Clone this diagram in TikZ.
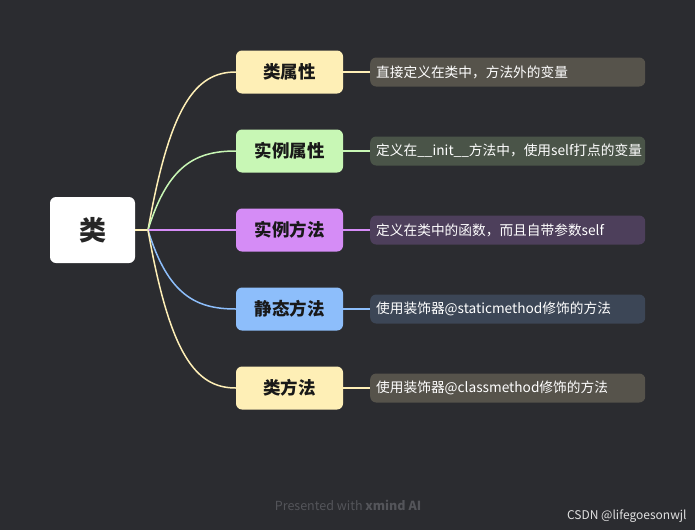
\documentclass[tikz,border=0pt]{standalone}
\usepackage{fontspec}
\setmainfont{Noto Sans CJK SC}
\definecolor{bgdark}{HTML}{2B2C30}
\definecolor{ylw}{HTML}{FEEFB6}
\definecolor{grn}{HTML}{C8F7B5}
\definecolor{prp}{HTML}{D58CF6}
\definecolor{blu}{HTML}{8DBEFB}
\definecolor{noteylw}{HTML}{56534B}
\definecolor{notegrn}{HTML}{4A5448}
\definecolor{noteprp}{HTML}{4D3F5B}
\definecolor{noteblu}{HTML}{3C4656}
\definecolor{wmgray}{HTML}{54555A}
\tikzset{
  rootbox/.style={fill=white,rounded corners=6pt,minimum width=85pt,minimum height=66pt,text=black!85,font=\bfseries\fontsize{27}{27}\selectfont},
  topicbox/.style={rounded corners=6pt,minimum width=107pt,minimum height=43pt,text=black!90,font=\bfseries\fontsize{17.5}{18}\selectfont},
  notebox/.style={anchor=west,rounded corners=6pt,minimum width=275pt,minimum height=29pt,inner xsep=6pt,text width=263pt,align=left,text=white,font=\fontsize{13.7}{14}\selectfont},
  link/.style={line width=1.5pt}
}
\begin{document}
\begin{tikzpicture}[x=1pt,y=-1pt]
  \fill[bgdark] (0,0) rectangle (695,530);
  \useasboundingbox (0,0) rectangle (695,530);

  \node[rootbox] (root) at (92.5,230) {类};
  \coordinate (hub) at (148,230);

  \node[topicbox,fill=ylw] (ca) at (289.5,72) {类属性};
  \node[topicbox,fill=grn] (ia) at (289.5,151) {实例属性};
  \node[topicbox,fill=prp] (im) at (289.5,230) {实例方法};
  \node[topicbox,fill=blu] (sm) at (289.5,309) {静态方法};
  \node[topicbox,fill=ylw] (cm) at (289.5,388) {类方法};

  \node[notebox,fill=noteylw] (nca) at (370,72) {直接定义在类中，方法外的变量};
  \node[notebox,fill=notegrn] (nia) at (370,151) {定义在\_\_init\_\_方法中，使用self打点的变量};
  \node[notebox,fill=noteprp] (nim) at (370,230) {定义在类中的函数，而且自带参数self};
  \node[notebox,fill=noteblu] (nsm) at (370,309) {使用装饰器@staticmethod修饰的方法};
  \node[notebox,fill=noteylw] (ncm) at (370,388) {使用装饰器@classmethod修饰的方法};

  % branches
  \draw[link,ylw] (root.east) -- (hub);
  \draw[link,ylw] (hub) .. controls +(22,-125) and +(-40,0) .. (ca.west);
  \draw[link,grn] (hub) .. controls +(20,-65) and +(-40,0) .. (ia.west);
  \draw[link,prp] (hub) -- (im.west);
  \draw[link,blu] (hub) .. controls +(20,65) and +(-40,0) .. (sm.west);
  \draw[link,ylw] (hub) .. controls +(22,125) and +(-40,0) .. (cm.west);

  \draw[link,ylw] (ca.east) -- (nca.west);
  \draw[link,grn] (ia.east) -- (nia.west);
  \draw[link,prp] (im.east) -- (nim.west);
  \draw[link,blu] (sm.east) -- (nsm.west);
  \draw[link,ylw] (cm.east) -- (ncm.west);

  \node[text=wmgray,font=\fontsize{12.5}{13}\selectfont] (wm) at (348,505) {Presented with \textbf{xmind AI}};
  \node[text=white!88!black,anchor=east,font=\fontsize{12}{13}\selectfont] (csdn) at (690,516) {CSDN @lifegoesonwjl};
\end{tikzpicture}
\end{document}
